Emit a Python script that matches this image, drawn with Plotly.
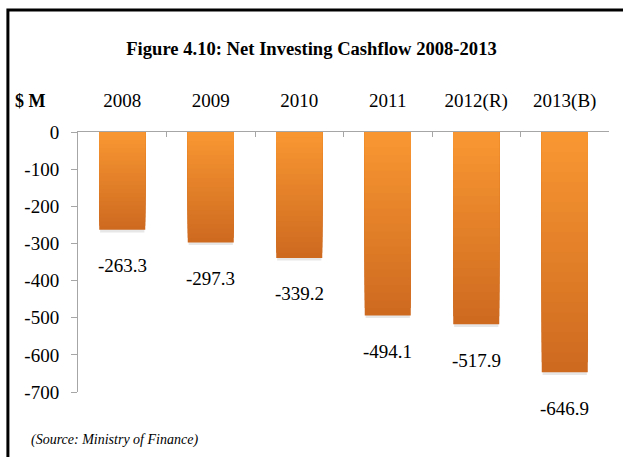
import plotly.graph_objects as go

# Net investing cashflow, $ million
years = ["2008", "2009", "2010", "2011", "2012(R)", "2013(B)"]
cashflow = [-263.3, -297.3, -339.2, -494.1, -517.9, -646.9]
y_ticks = [0, -100, -200, -300, -400, -500, -600, -700]

SERIF = "Liberation Serif, Times New Roman, serif"
TOP_RGB = (248, 151, 50)
BOTTOM_RGB = (206, 106, 32)
STEPS = 24

fig = go.Figure()

# Soft drop shadow just beyond the end of each bar
fig.add_trace(go.Bar(
    x=years, y=[v - 7 for v in cashflow], width=0.5,
    marker=dict(color="rgba(120,120,120,0.18)", line=dict(width=0)),
    hoverinfo="skip", showlegend=False,
))

# Vertical gradient: overlaid bars of shrinking length, darkest first
for k in range(STEPS, 0, -1):
    t = (k - 1) / (STEPS - 1)
    r, g, b = (round(TOP_RGB[i] + (BOTTOM_RGB[i] - TOP_RGB[i]) * t) for i in range(3))
    fig.add_trace(go.Bar(
        x=years, y=[v * k / STEPS for v in cashflow], width=0.52,
        marker=dict(color=f"rgb({r},{g},{b})", line=dict(width=0)),
        hoverinfo="skip", showlegend=False,
    ))

fig.update_layout(
    barmode="overlay",
    width=623, height=457,
    margin=dict(l=78, r=14, t=132, b=65),
    paper_bgcolor="white", plot_bgcolor="white",
    showlegend=False,
    title=dict(
        text="<b>Figure 4.10: Net Investing Cashflow 2008-2013</b>",
        x=0.5, xref="container", xanchor="center",
        y=1 - 48 / 457, yref="container", yanchor="middle",
        font=dict(family=SERIF, size=18.6, color="black"),
    ),
    xaxis=dict(
        type="category", categoryorder="array", categoryarray=years,
        side="top", showgrid=False,
        showline=True, linecolor="#a6a6a6", linewidth=1,
        ticks="inside", tickson="boundaries", ticklen=5, tickcolor="#a6a6a6",
        ticklabelstandoff=16,
        tickfont=dict(family=SERIF, size=19, color="black"),
        fixedrange=True,
    ),
    yaxis=dict(
        range=[-700, 0], showgrid=False, zeroline=False,
        showline=True, linecolor="#a6a6a6", linewidth=1,
        ticks="outside", ticklen=6, tickcolor="#a6a6a6",
        tickvals=y_ticks, ticktext=[str(v) for v in y_ticks],
        ticklabelstandoff=8,
        tickfont=dict(family=SERIF, size=19, color="black"),
        fixedrange=True,
    ),
    shapes=[dict(
        type="rect", xref="paper", yref="paper",
        x0=-0.132, x1=1.2, y0=-0.5, y1=1.469,
        line=dict(color="black", width=3), fillcolor="rgba(0,0,0,0)",
        layer="above",
    )],
)

# Value labels under each bar (category index on the x axis)
for i, v in enumerate(cashflow):
    fig.add_annotation(
        x=i, y=v, xref="x", yref="y", text=f"{v:.1f}", showarrow=False,
        yshift=-36, font=dict(family=SERIF, size=19, color="black"),
    )

# Unit label and source note
fig.add_annotation(
    text="<b>$ M</b>", xref="paper", yref="paper",
    x=-0.09, y=1.118, xanchor="center", yanchor="middle", showarrow=False,
    font=dict(family=SERIF, size=18, color="black"),
)
fig.add_annotation(
    text="<i>(Source: Ministry of Finance)</i>", xref="paper", yref="paper",
    x=-0.092, y=-0.185, xanchor="left", yanchor="middle", showarrow=False,
    font=dict(family=SERIF, size=14, color="black"),
)

fig.write_html("out.html")
